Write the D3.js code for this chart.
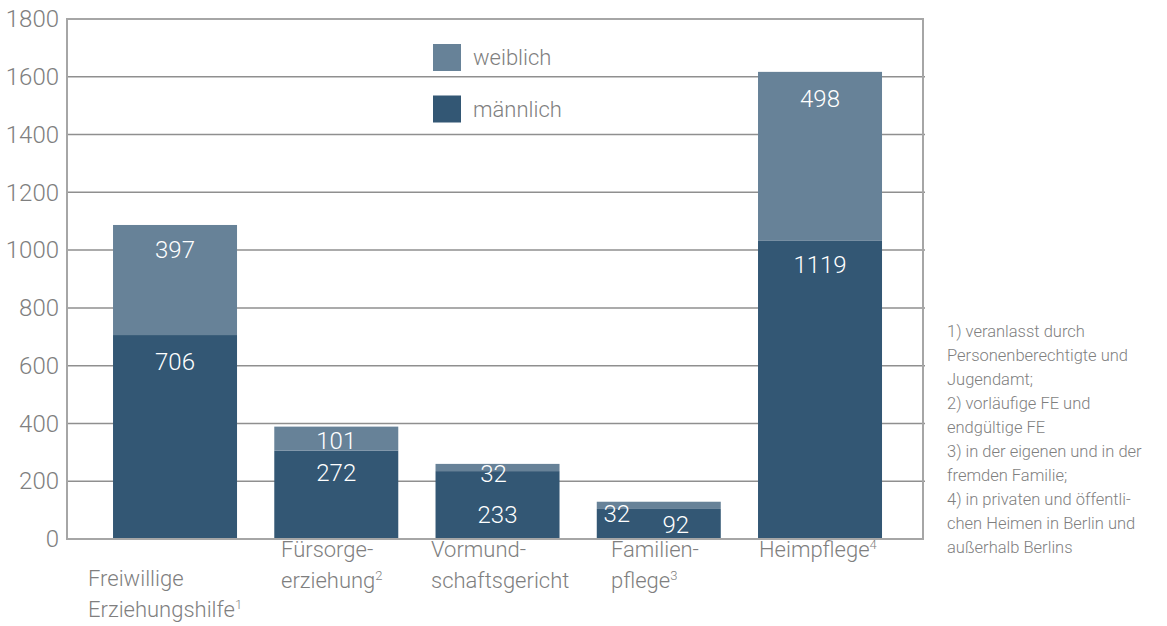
<!DOCTYPE html>
<html><head><meta charset="utf-8">
<script src="https://cdn.jsdelivr.net/npm/d3@7"></script>
<style>
body{margin:0;background:#fff;}
svg{display:block;font-family:Roboto,"Open Sans",sans-serif;font-weight:300;}
</style></head>
<body><svg id="chart" width="1167" height="626"></svg>
<script>
// ---- data ----
const categories = ["Freiwillige Erziehungshilfe", "Fürsorgeerziehung", "Vormundschaftsgericht", "Familienpflege", "Heimpflege"];
const categoryLines = [["Freiwillige", "Erziehungshilfe|1"], ["Fürsorge-", "erziehung|2"], ["Vormund-", "schaftsgericht"], ["Familien-", "pflege|3"], ["Heimpflege|4"]];
// bar heights as drawn in the picture
const maleHeight = [706, 306, 235, 104, 1032];
const femaleHeight = [381, 83, 25, 25, 585];
// printed value labels
const maleLabel = [706, 272, 233, 92, 1119];
const femaleLabel = [397, 101, 32, 32, 498];
const yTicks = [0, 200, 400, 600, 800, 1000, 1200, 1400, 1600, 1800];
const seriesNames = ["weiblich", "männlich"];
const footnotes = ["1) veranlasst durch", "Personenberechtigte und", "Jugendamt;", "2) vorläufige FE und", "endgültige FE", "3) in der eigenen und in der", "fremden Familie;", "4) in privaten und öffentli-", "chen Heimen in Berlin und", "außerhalb Berlins"];

// ---- layout / style ----
const colors = {weiblich: "#678298", "männlich": "#335774"};
const plot = {left: 67, right: 923, top: 19, bottom: 539};
const labelOffsets = { // [dx from bar centre, dy from segment top] in px
  female: [[0, 25.5], [0, 14], [-4, 10], [-42, 12], [0, 27]],
  male:   [[0, 27], [0, 22], [0, 43.5], [17, 16], [0, 24]]
};
const catLabelPos = [[88, 586], [281, 557], [431, 557], [611, 557], [759, 557]];
const catLineGap = 31;

const svg = d3.select("#chart");
const x = d3.scaleBand().domain(categories).range([plot.left, plot.right])
  .paddingInner(0.231).paddingOuter(0.2698).align(0.529);
const y = d3.scaleLinear().domain([0, 1800]).range([plot.bottom, plot.top]);

// grid lines
svg.append("g").selectAll("line").data(yTicks.filter(t => t > 0 && t < 1800)).join("line")
  .attr("x1", plot.left).attr("x2", plot.right + 2)
  .attr("y1", d => y(d)).attr("y2", d => y(d))
  .attr("stroke", "#8f8f8f").attr("stroke-width", 1.5);

// y tick labels via axis
const yAxis = svg.append("g").attr("transform", `translate(${plot.left},0)`)
  .call(d3.axisLeft(y).tickValues(yTicks).tickFormat(d3.format("d")).tickSize(0).tickPadding(8));
yAxis.select(".domain").remove();
yAxis.selectAll("text").attr("font-size", 24).attr("fill", "#7f7f7f")
  .attr("font-family", "Roboto, sans-serif").attr("font-weight", 300);

// stacked bars
const rows = categories.map((c, i) => ({cat: c, m: maleHeight[i], w: femaleHeight[i], i}));
const bars = svg.append("g");
bars.selectAll("rect.m").data(rows).join("rect").attr("class", "m")
  .attr("x", d => x(d.cat)).attr("width", x.bandwidth())
  .attr("y", d => y(d.m)).attr("height", d => y(0) - y(d.m))
  .attr("fill", colors["männlich"]);
bars.selectAll("rect.w").data(rows).join("rect").attr("class", "w")
  .attr("x", d => x(d.cat)).attr("width", x.bandwidth())
  .attr("y", d => y(d.m + d.w)).attr("height", d => y(d.m) - y(d.m + d.w))
  .attr("fill", colors.weiblich);

// frame
svg.append("rect").attr("x", plot.left).attr("y", plot.top)
  .attr("width", plot.right - plot.left).attr("height", plot.bottom - plot.top)
  .attr("fill", "none").attr("stroke", "#a6a6a6").attr("stroke-width", 2);

// value labels
const vl = svg.append("g").attr("font-size", 24).attr("fill", "#ffffff").attr("text-anchor", "middle");
rows.forEach((d, i) => {
  const cx = x(d.cat) + x.bandwidth() / 2;
  const fo = labelOffsets.female[i], mo = labelOffsets.male[i];
  vl.append("text").attr("x", cx + fo[0]).attr("y", y(d.m + d.w) + fo[1])
    .attr("dominant-baseline", "central").text(femaleLabel[i]);
  vl.append("text").attr("x", cx + mo[0]).attr("y", y(d.m) + mo[1])
    .attr("dominant-baseline", "central").text(maleLabel[i]);
});

// legend
const lg = svg.append("g");
seriesNames.forEach((s, i) => {
  lg.append("rect").attr("x", 433).attr("y", 44 + i * 51.5).attr("width", 28).attr("height", 27)
    .attr("fill", colors[s]);
  lg.append("text").attr("x", 473).attr("y", 57.5 + i * 51.5).attr("dominant-baseline", "central")
    .attr("font-size", 22).attr("fill", "#7f7f7f").text(s);
});

// category labels
const cl = svg.append("g").attr("font-size", 22).attr("fill", "#7f7f7f");
categoryLines.forEach((lines, i) => {
  lines.forEach((ln, j) => {
    const [main, sup] = ln.split("|");
    const t = cl.append("text").attr("x", catLabelPos[i][0]).attr("y", catLabelPos[i][1] + j * catLineGap);
    t.append("tspan").text(main);
    if (sup) t.append("tspan").attr("font-size", 13).attr("dy", -8).text(sup);
  });
});

// footnotes
svg.append("g").attr("font-size", 16.5).attr("fill", "#7f7f7f")
  .selectAll("text").data(footnotes).join("text")
  .attr("x", 947).attr("y", (d, i) => 337 + i * 24).text(d => d);
</script></body></html>
